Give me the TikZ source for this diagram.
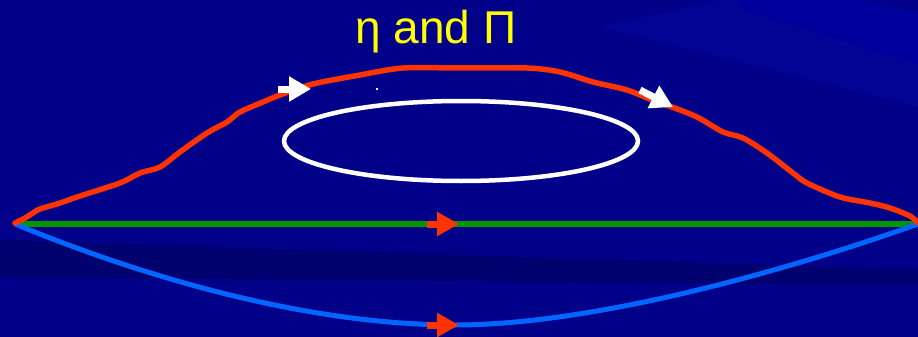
\documentclass[tikz,border=0pt]{standalone}
\usepackage{fontspec}
\setmainfont{Liberation Sans}
\usetikzlibrary{arrows.meta,shapes.geometric}
\definecolor{bgmain}{RGB}{0,0,136}
\definecolor{bglight}{RGB}{0,0,156}
\definecolor{bglight2}{RGB}{4,4,148}
\definecolor{bgdark}{RGB}{0,0,110}
\definecolor{redline}{RGB}{255,51,0}
\definecolor{greenline}{RGB}{0,150,0}
\definecolor{blueline}{RGB}{0,102,255}
\definecolor{titleyellow}{RGB}{255,255,0}
\tikzset{
  redpath/.style={draw=redline,line width=5.5pt,line cap=round,line join=round},
  greenpath/.style={draw=greenline,line width=5.5pt},
  bluepath/.style={draw=blueline,line width=5pt},
  whitering/.style={draw=white,line width=4.5pt},
  whitemark/.style={draw=white,line width=7pt,-{Triangle[length=22pt,width=24pt]}},
  redmark/.style={draw=redline,line width=7pt,-{Triangle[length=22pt,width=23pt]}},
  titletext/.style={text=titleyellow,font=\fontsize{46}{52}\selectfont,inner sep=0pt,anchor=base}
}
\begin{document}
\begin{tikzpicture}[x=1pt,y=-1pt]
\useasboundingbox (0,0) rectangle (918,337);
% background
\fill[bgmain] (0,0) rectangle (918,337);
\fill[bglight2] (600,27) -- (717,0) -- (918,0) -- (918,107) -- cycle;
\fill[bglight] (740,0) -- (860,0) -- (918,13) -- (918,64) -- (743,10) -- cycle;
\fill[bgmain] (860,0) -- (918,0) -- (918,13) -- cycle;
\fill[bgdark] (0,240) -- (918,270) -- (918,285) -- (0,277) -- cycle;
% endpoints
\coordinate (L) at (15,224);
\coordinate (R) at (918,224);
\coordinate (B) at (455,325);
% title
\node[titletext] (title) at (436,44) {η and Π};
% ellipse
\node[whitering,ellipse,minimum width=354pt,minimum height=80pt,inner sep=0pt] (ring) at (461,141) {};
\fill[white] (376,88) rectangle (378,90);
% green straight line
\draw[greenpath] (L) -- (R);
% blue curve
\draw[bluepath] (L) .. controls (200,300) and (350,325) .. (B)
  .. controls (580,325) and (760,280) .. (R);
% red wavy curve
\draw[redpath] plot[smooth,tension=0.5] coordinates {
 (15,223) (25,218) (33,213) (40,209) (60,203) (80,196) (120,183) (140,173)
 (160,167) (180,152) (207,133) (227,122) (240,112) (263,102) (280,95)
 (313,84) (360,75) (403,68) (460,68) (527,68) (560,72) (593,82) (627,90)
 (657,102) (672,107) (697,117) (723,132) (743,138) (767,153) (793,173)
 (807,183) (840,197) (870,203) (890,208) (910,216) (918,223)};
% arrow marks
\draw[whitemark] (278,89) -- (311,89);
\draw[whitemark] (640,90) -- (673,107);
\draw[redmark] (427,224) -- (459,224);
\draw[redmark] (427,325) -- (459,325);
\end{tikzpicture}
\end{document}
